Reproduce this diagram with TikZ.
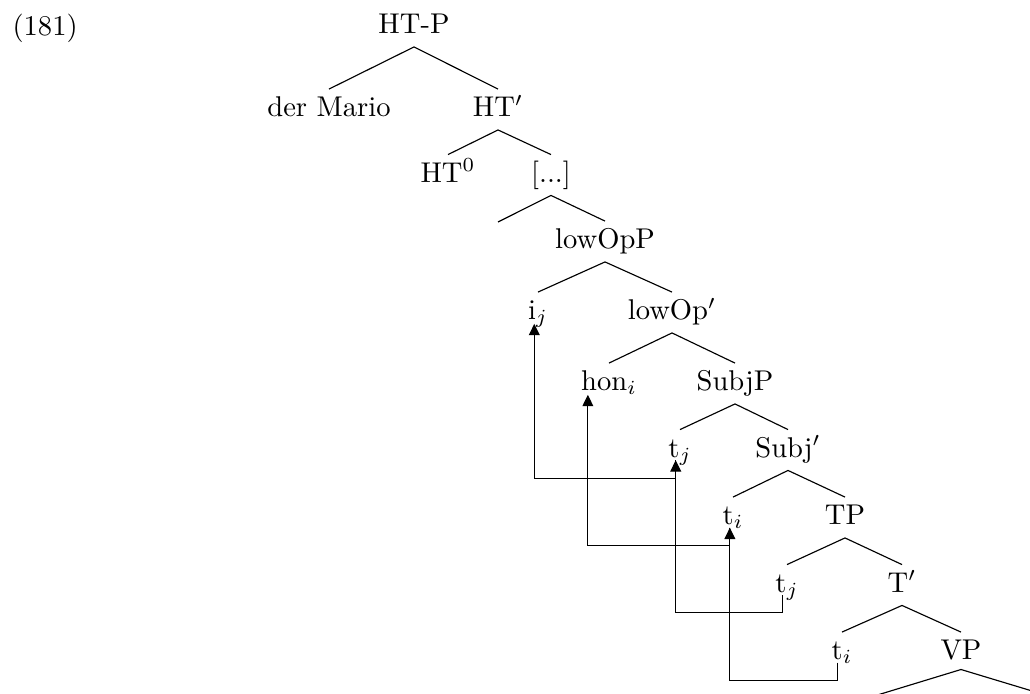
\documentclass[tikz,border=0pt]{standalone}
\usetikzlibrary{arrows.meta}
\begin{document}
\begin{tikzpicture}[x=0.35pt,y=-0.35pt,
  lab/.style={anchor=base,inner sep=0pt},
  edge/.style={line width=0.4pt},
  mv/.style={line width=0.4pt,-{Triangle[width=3.8pt,length=4pt]}}]
\useasboundingbox (0,0) rectangle (1030,693);
% example number
\node[anchor=base west,inner sep=0pt] (exno) at (12,35) {(181)};
% tree labels
\node[lab] (HTP)      at (414,33.5)  {HT-P};
\node[lab] (derMario) at (329,116.5) {der Mario};
\node[lab] (HTbar)    at (498,116.5) {HT$'$};
\node[lab] (HTzero)   at (448,182)   {HT$^0$};
\node[lab] (dots)     at (551,182)   {[...]};
\coordinate (empty) at (498,222);
\node[lab] (lowOpP)   at (605,248.5) {lowOpP};
\node[lab] (ij)       at (538,319.5) {i$_j$};
\node[lab] (lowOpbar) at (672,319.5) {lowOp$'$};
\node[lab] (hon)      at (609,390.5) {hon$_i$};
\node[lab] (SubjP)    at (735,390.5) {SubjP};
\node[lab] (tjA)      at (680,457)   {t$_j$};
\node[lab] (Subjbar)  at (788,457)   {Subj$'$};
\node[lab] (tiA)      at (733,524.5) {t$_i$};
\node[lab] (TP)       at (845,524.5) {TP};
\node[lab] (tjB)      at (787,592)   {t$_j$};
\node[lab] (Tbar)     at (902,592)   {T$'$};
\node[lab] (tiB)      at (842,659.5) {t$_i$};
\node[lab] (VP)       at (961,659.5) {VP};
\coordinate (VPl) at (861,700);
\coordinate (VPr) at (1062,700);
% tree edges
\draw[edge] ([yshift=-4.7pt]HTP.base) -- ([yshift=9.6pt]derMario.base);
\draw[edge] ([yshift=-4.7pt]HTP.base) -- ([yshift=9.6pt]HTbar.base);
\draw[edge] ([yshift=-4.7pt]HTbar.base) -- ([yshift=9.6pt]HTzero.base);
\draw[edge] ([yshift=-4.7pt]HTbar.base) -- ([yshift=9.6pt]dots.base);
\draw[edge] ([yshift=-4.7pt]dots.base) -- (empty);
\draw[edge] ([yshift=-4.7pt]dots.base) -- ([yshift=9.6pt]lowOpP.base);
\draw[edge] ([yshift=-4.7pt]lowOpP.base) -- ([yshift=9.6pt]ij.base);
\draw[edge] ([yshift=-4.7pt]lowOpP.base) -- ([yshift=9.6pt]lowOpbar.base);
\draw[edge] ([yshift=-4.7pt]lowOpbar.base) -- ([yshift=9.6pt]hon.base);
\draw[edge] ([yshift=-4.7pt]lowOpbar.base) -- ([yshift=9.6pt]SubjP.base);
\draw[edge] ([yshift=-4.7pt]SubjP.base) -- ([yshift=9.6pt]tjA.base);
\draw[edge] ([yshift=-4.7pt]SubjP.base) -- ([yshift=9.6pt]Subjbar.base);
\draw[edge] ([yshift=-4.7pt]Subjbar.base) -- ([yshift=9.6pt]tiA.base);
\draw[edge] ([yshift=-4.7pt]Subjbar.base) -- ([yshift=9.6pt]TP.base);
\draw[edge] ([yshift=-4.7pt]TP.base) -- ([yshift=9.6pt]tjB.base);
\draw[edge] ([yshift=-4.7pt]TP.base) -- ([yshift=9.6pt]Tbar.base);
\draw[edge] ([yshift=-4.7pt]Tbar.base) -- ([yshift=9.6pt]tiB.base);
\draw[edge] ([yshift=-4.7pt]Tbar.base) -- ([yshift=9.6pt]VP.base);
\begin{scope}
\clip (0,0) rectangle (1030,693);
\draw[edge] ([yshift=-3.5pt]VP.base) -- (VPl);
\draw[edge] ([yshift=-3.5pt]VP.base) -- (VPr);
\end{scope}
% movement arrows
\coordinate (ijf)  at ([xshift=-1.3pt,yshift=-1.5pt]ij.base);
\coordinate (honf) at ([xshift=-7.4pt,yshift=-1.5pt]hon.base);
\coordinate (tjAf) at ([xshift=-1.5pt,yshift=-1.1pt]tjA.base);
\coordinate (tiAf) at ([xshift=-1.1pt,yshift=-1.1pt]tiA.base);
\coordinate (tjBf) at ([xshift=-1.7pt,yshift=-1.1pt]tjB.base);
\coordinate (tiBf) at ([xshift=-1.7pt,yshift=-1.1pt]tiB.base);
\draw[mv] (tjBf) -- ++(0,17) -| (tjAf);
\draw[mv] (tjAf) -- ++(0,18) -| (ijf);
\draw[mv] (tiBf) -- ++(0,17.5) -| (tiAf);
\draw[mv] (tiAf) -- ++(0,18) -| (honf);
\end{tikzpicture}
\end{document}
